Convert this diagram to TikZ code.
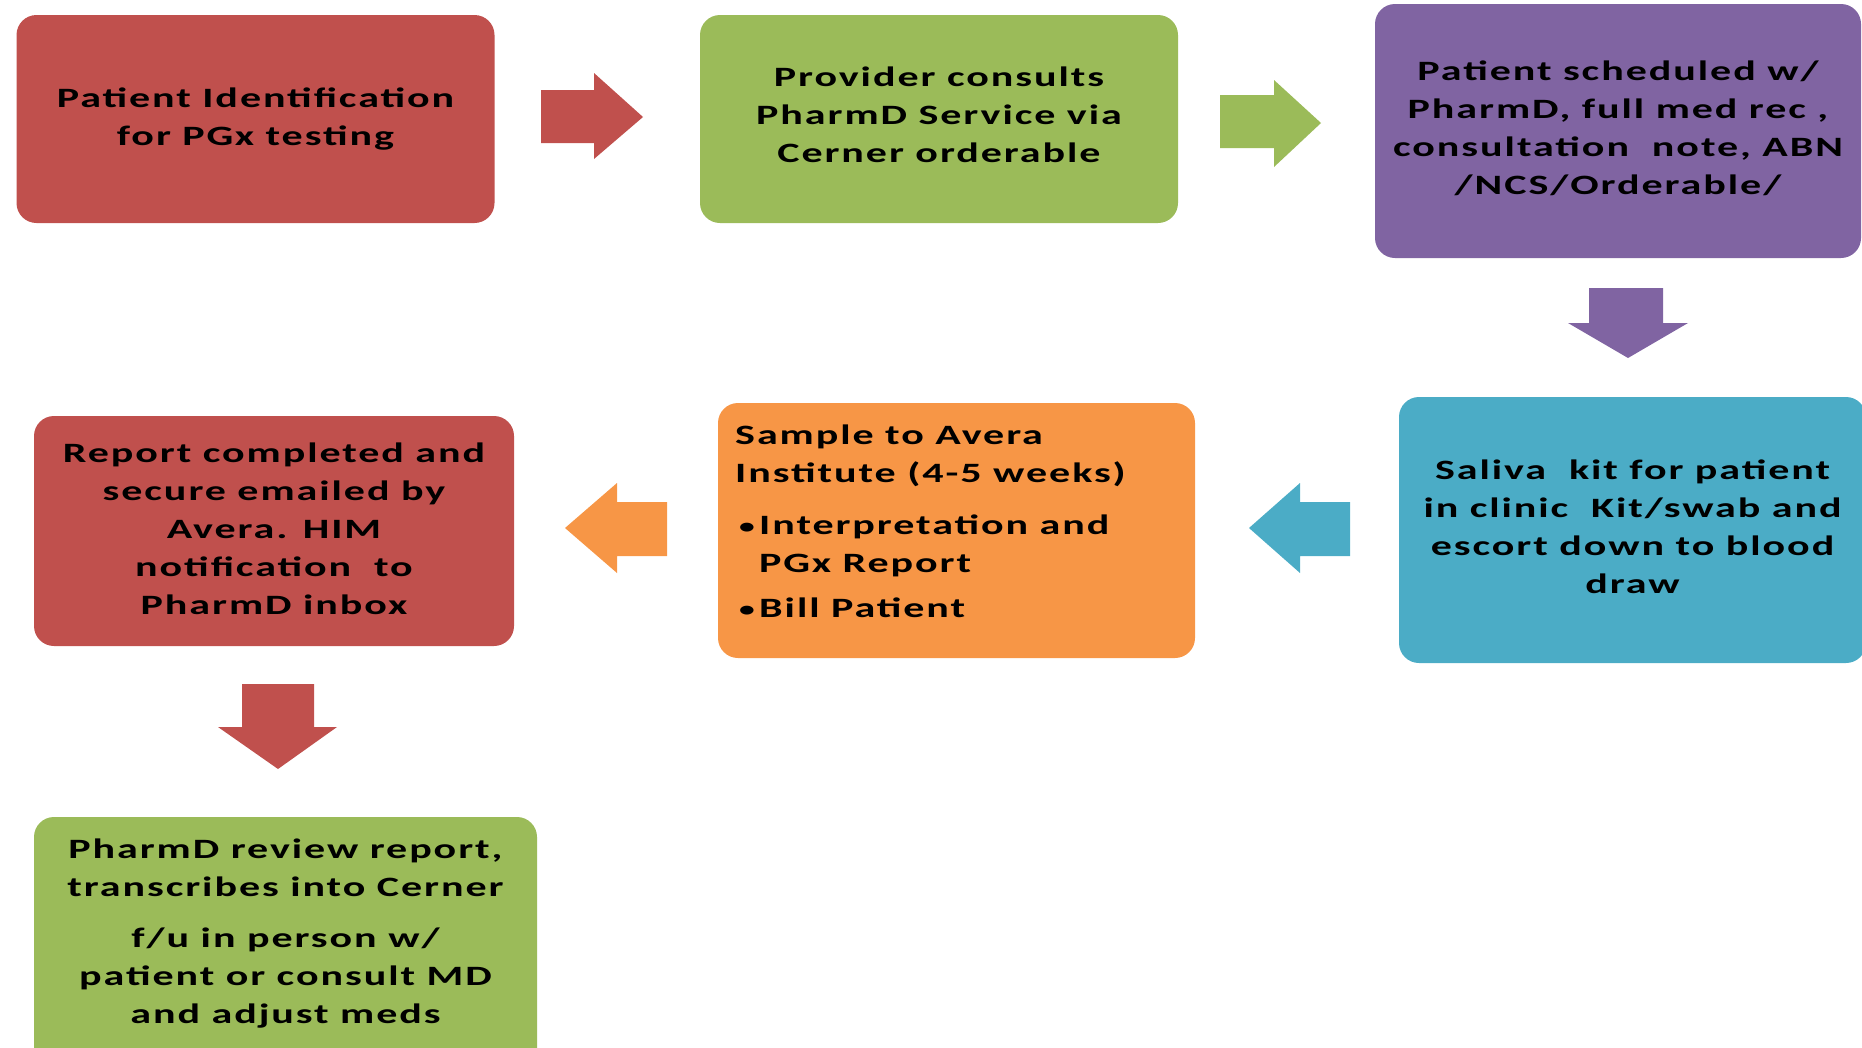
\documentclass[tikz,border=0pt]{standalone}
\usepackage{fontspec}
\setmainfont{Carlito}[FakeStretch=1.5,LetterSpace=7]
\definecolor{cred}{HTML}{C0504D}
\definecolor{cgreen}{HTML}{9BBB59}
\definecolor{cpurple}{HTML}{8064A2}
\definecolor{cblue}{HTML}{4BACC6}
\definecolor{corange}{HTML}{F79646}
\newcommand{\smallbul}{\makebox[24pt][l]{\hspace{4pt}\raisebox{1pt}{\fontsize{21}{21}\selectfont •}}}
\begin{document}
\begin{tikzpicture}[x=1pt,y=-1pt,
  box/.style={rounded corners=20pt, inner sep=0pt, align=center, text=black,
    font=\fontsize{28}{38}\selectfont\bfseries},
  txt/.style={inner sep=0pt, text=black, font=\fontsize{28}{38}\selectfont\bfseries}]
\clip (0,0) rectangle (1862,1047);
% boxes
\node[box, fill=cred, minimum width=478, minimum height=208] (b1) at (255.5,119) {Patient Identification\\for PGx testing};
\node[box, fill=cgreen, minimum width=478, minimum height=208] (b2) at (939,119) {};
\node[txt, align=center] (t2) at (939,115) {Provider consults\\PharmD Service via\\Cerner orderable};
\node[box, fill=cpurple, minimum width=486, minimum height=254] (b3) at (1618,131) {};
\node[txt, align=center] (t3) at (1618,128) {Patient scheduled w/\\PharmD, full med rec ,\\consultation \ note, ABN\\/NCS/Orderable/};
\node[box, fill=cblue, minimum width=467, minimum height=266] (b4) at (1632.5,530) {};
\node[txt, align=center] (t4) at (1632.5,527) {Saliva \ kit for patient\\in clinic \ Kit/swab and\\escort down to blood\\draw};
\node[box, fill=corange, minimum width=477, minimum height=255] (b5) at (956.5,530.5) {};
\node[txt, anchor=north west, align=left] (t5) at (735,425) {Sample to Avera\\Institute (4-5 weeks)\\[14pt]\smallbul Interpretation and\\\hspace*{24pt}PGx Report\\[7pt]\smallbul Bill Patient};
\node[box, fill=cred, minimum width=480, minimum height=230] (b6) at (274,531) {};
\node[txt, align=center] (t6) at (274,529) {Report completed and\\secure emailed by\\Avera. HIM\\notification \ to\\PharmD inbox};
\node[box, fill=cgreen, minimum width=503, minimum height=260] (b7) at (285.5,947) {};
\node[txt, anchor=north, align=center] (t7) at (285.5,839) {PharmD review report,\\transcribes into Cerner\\[13pt]f/u in person w/\\patient or consult MD\\and adjust meds};
% block arrows
\fill[cred] (541,90) -- (594,90) -- (594,73) -- (643,117) -- (594,159) -- (594,143) -- (541,143) -- cycle;
\fill[cgreen] (1220,95) -- (1274,95) -- (1274,80) -- (1321,123) -- (1274,167) -- (1274,148) -- (1220,148) -- cycle;
\fill[cpurple] (1589,288) -- (1663,288) -- (1663,323) -- (1688,323) -- (1628,358) -- (1568,323) -- (1589,323) -- cycle;
\fill[cblue] (1350,502) -- (1300,502) -- (1300,483) -- (1249,528) -- (1300,573) -- (1300,556) -- (1350,556) -- cycle;
\fill[corange] (667,502) -- (617,502) -- (617,483) -- (565,528) -- (617,573) -- (617,556) -- (667,556) -- cycle;
\fill[cred] (242,684) -- (314,684) -- (314,727) -- (337,727) -- (278,769) -- (218,727) -- (242,727) -- cycle;
\end{tikzpicture}
\end{document}
